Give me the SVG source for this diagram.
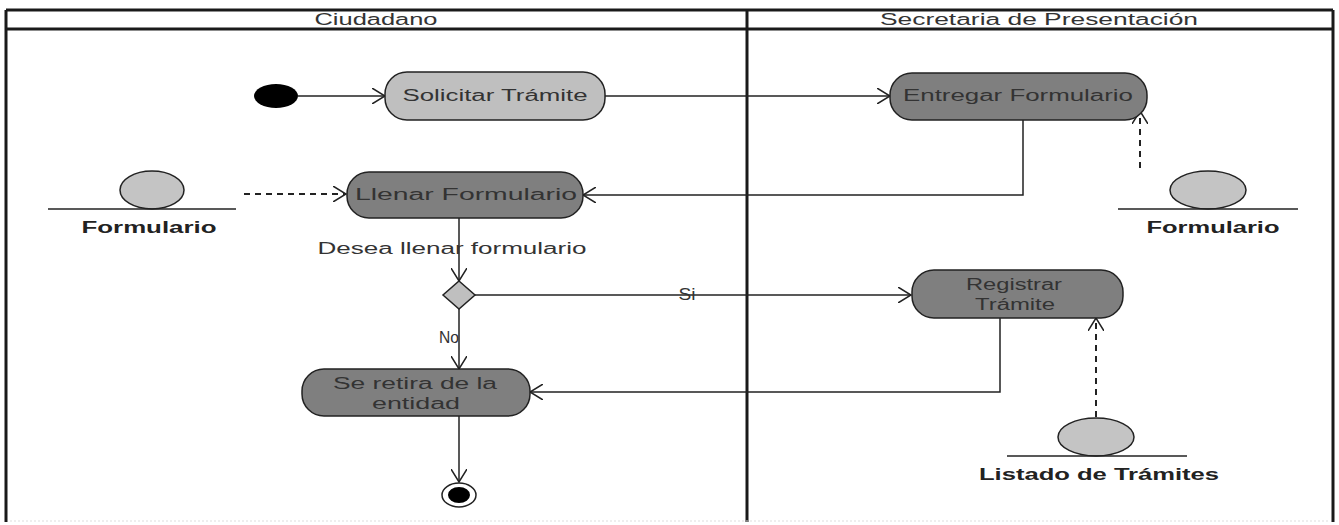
<svg xmlns="http://www.w3.org/2000/svg" width="1339" height="525" viewBox="0 0 1339 525">
<defs>
<style>
.frame{fill:none;stroke:#1a1a1a;stroke-width:3}
.t{font-family:"Liberation Sans",Arial,sans-serif;font-size:16px;fill:#333;text-anchor:middle}
.act{stroke:#222;stroke-width:1.5}
.light{fill:#bfbfbf}
.dark{fill:#7f7f7f}
.obj{fill:#c4c4c4;stroke:#222;stroke-width:1.5}
.b{font-weight:bold;fill:#222}
.edge{fill:none;stroke:#222;stroke-width:1.5}
.dash{fill:none;stroke:#222;stroke-width:2;stroke-dasharray:6 5}
</style>
<marker id="open" viewBox="0 0 14 16" refX="13" refY="8" markerWidth="14" markerHeight="16" markerUnits="userSpaceOnUse" orient="auto">
<path d="M0,0 L13,8 L0,16" fill="none" stroke="#222" stroke-width="1.5"/>
</marker>
</defs>
<rect x="0" y="0" width="1339" height="525" fill="#fff"/>
<g id="swimlanes">
<line x1="6" y1="10" x2="1333" y2="10" class="frame"/>
<line x1="6" y1="29" x2="1333" y2="29" class="frame"/>
<line x1="6" y1="10" x2="6" y2="522" class="frame"/>
<line x1="747" y1="10" x2="747" y2="522" class="frame"/>
<line x1="1333" y1="10" x2="1333" y2="522" class="frame"/>
<line x1="10" y1="521" x2="1330" y2="521" stroke="#ddd" stroke-width="1" stroke-dasharray="2 2"/>
<text x="376" y="25" class="t" textLength="123" lengthAdjust="spacingAndGlyphs">Ciudadano</text>
<text x="1039" y="25" class="t" textLength="318" lengthAdjust="spacingAndGlyphs">Secretaria de Presentación</text>
</g>
<g id="connectors">
<line x1="298" y1="96" x2="385" y2="96" class="edge" marker-end="url(#open)"/>
<line x1="605" y1="96" x2="890" y2="96" class="edge" marker-end="url(#open)"/>
<polyline points="1023,120 1023,195 583,195" class="edge" marker-end="url(#open)"/>
<line x1="1140" y1="168" x2="1140" y2="111" class="dash" marker-end="url(#open)"/>
<line x1="244" y1="194" x2="346" y2="194" class="dash" marker-end="url(#open)"/>
<line x1="459" y1="218" x2="459" y2="281" class="edge" marker-end="url(#open)"/>
<line x1="475" y1="295" x2="911" y2="295" class="edge" marker-end="url(#open)"/>
<polyline points="1000,318 1000,392 530,392" class="edge" marker-end="url(#open)"/>
<line x1="1096" y1="417" x2="1096" y2="318" class="dash" marker-end="url(#open)"/>
<line x1="459" y1="309" x2="459" y2="369" class="edge" marker-end="url(#open)"/>
<line x1="459" y1="416" x2="459" y2="482" class="edge" marker-end="url(#open)"/>
<text x="452" y="254" class="t" textLength="269" lengthAdjust="spacingAndGlyphs">Desea llenar formulario</text>
<text x="687" y="300" class="t" textLength="17" lengthAdjust="spacingAndGlyphs">Si</text>
<text x="449" y="343" class="t" textLength="20" lengthAdjust="spacingAndGlyphs">No</text>
</g>
<g id="initial">
<ellipse cx="276" cy="96" rx="22" ry="12" fill="#000"/>
</g>
<g id="solicitar">
<rect x="385" y="72" width="220" height="48" rx="22" class="act light"/>
<text x="495" y="101" class="t" textLength="185" lengthAdjust="spacingAndGlyphs">Solicitar Trámite</text>
</g>
<g id="entregar">
<rect x="890" y="73" width="257" height="47" rx="22" class="act dark"/>
<text x="1018" y="101" class="t" textLength="230" lengthAdjust="spacingAndGlyphs">Entregar Formulario</text>
</g>
<g id="formulario-left">
<ellipse cx="152" cy="190" rx="32" ry="19" class="obj"/>
<line x1="48" y1="209" x2="236" y2="209" stroke="#222" stroke-width="1.5"/>
<text x="149" y="233" class="t b" textLength="135" lengthAdjust="spacingAndGlyphs">Formulario</text>
</g>
<g id="formulario-right">
<ellipse cx="1208" cy="190" rx="38" ry="19" class="obj"/>
<line x1="1118" y1="209" x2="1298" y2="209" stroke="#222" stroke-width="1.5"/>
<text x="1213" y="233" class="t b" textLength="133" lengthAdjust="spacingAndGlyphs">Formulario</text>
</g>
<g id="llenar">
<rect x="347" y="172" width="236" height="46" rx="22" class="act dark"/>
<text x="466" y="200" class="t" textLength="222" lengthAdjust="spacingAndGlyphs">Llenar Formulario</text>
</g>
<g id="decision">
<polygon points="459,281 475,295 459,309 443,295" fill="#bfbfbf" stroke="#222" stroke-width="1.5"/>
</g>
<g id="registrar">
<rect x="912" y="270" width="211" height="48" rx="22" class="act dark"/>
<text x="1014" y="290" class="t" textLength="96" lengthAdjust="spacingAndGlyphs">Registrar</text>
<text x="1015" y="310" class="t" textLength="80" lengthAdjust="spacingAndGlyphs">Trámite</text>
</g>
<g id="listado">
<ellipse cx="1096" cy="437" rx="38" ry="19" class="obj"/>
<line x1="1007" y1="456" x2="1187" y2="456" stroke="#222" stroke-width="1.5"/>
<text x="1099" y="480" class="t b" textLength="240" lengthAdjust="spacingAndGlyphs">Listado de Trámites</text>
</g>
<g id="retira">
<rect x="302" y="369" width="228" height="47" rx="22" class="act dark"/>
<text x="415" y="389" class="t" textLength="164" lengthAdjust="spacingAndGlyphs">Se retira de la</text>
<text x="416" y="409" class="t" textLength="88" lengthAdjust="spacingAndGlyphs">entidad</text>
</g>
<g id="final">
<ellipse cx="459" cy="495" rx="17" ry="12" fill="#fff" stroke="#222" stroke-width="1.5"/>
<ellipse cx="459" cy="495" rx="11" ry="8" fill="#000"/>
</g>
</svg>
